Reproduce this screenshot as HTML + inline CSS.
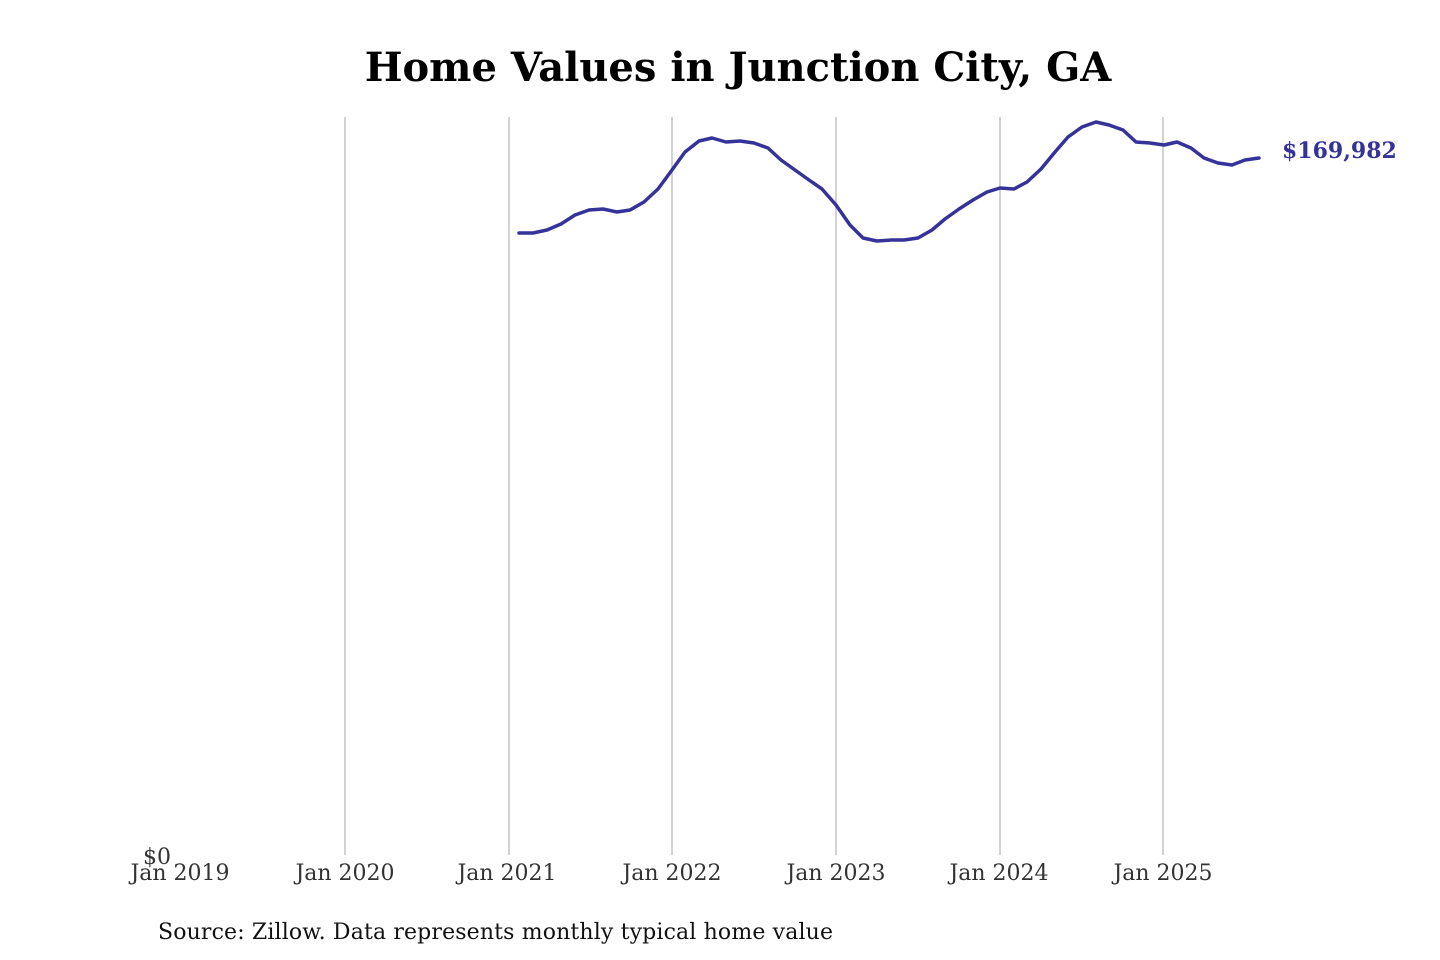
<!DOCTYPE html>
<html><head><style>
body{margin:0;background:#fff;}
svg{display:block;font-family:"DejaVu Serif","Liberation Serif",serif;}
</style></head><body>
<svg width="1440" height="960" viewBox="0 0 1440 960">
<text x="738" y="81" text-anchor="middle" font-size="40" font-weight="bold" fill="#000">Home Values in Junction City, GA</text>
<g stroke="#bbb" stroke-width="1.3">
<line x1="345" y1="117" x2="345" y2="855"/>
<line x1="509" y1="117" x2="509" y2="855"/>
<line x1="672" y1="117" x2="672" y2="855"/>
<line x1="836" y1="117" x2="836" y2="855"/>
<line x1="1000" y1="117" x2="1000" y2="855"/>
<line x1="1163" y1="117" x2="1163" y2="855"/>
</g>
<polyline fill="none" stroke="#35339a" stroke-width="3.5" stroke-linejoin="round" stroke-linecap="round" points="519,233 533,233 547,230 561,224 575,215 589,210 603,209 617,212 630,210 644,202 658,189 672,170 685,152 699,141 712,138 726,142 740,141 754,143 768,148 781,160 795,170 809,180 822,189 836,205 850,225 863,238 877,241 891,240 904,240 918,238 932,230 945,219 959,209 973,200 987,192 1000,188 1014,189 1027,182 1041,169 1055,152 1068,137 1082,127 1096,122 1109,125 1123,130 1136,142 1150,143 1164,145 1177,142 1191,148 1204,158 1218,163 1232,165 1245,160 1259,158"/>
<text x="1282" y="158" font-size="22" font-weight="bold" fill="#35339a">$169,982</text>
<g font-size="22" fill="#333" text-anchor="middle">
<text x="157" y="864">$0</text>
<text x="180" y="880">Jan 2019</text>
<text x="345" y="880">Jan 2020</text>
<text x="507" y="880">Jan 2021</text>
<text x="672" y="880">Jan 2022</text>
<text x="836" y="880">Jan 2023</text>
<text x="999" y="880">Jan 2024</text>
<text x="1163" y="880">Jan 2025</text>
</g>
<text x="158" y="939" font-size="22" fill="#111" textLength="675">Source: Zillow. Data represents monthly typical home value</text>
</svg>
</body></html>
